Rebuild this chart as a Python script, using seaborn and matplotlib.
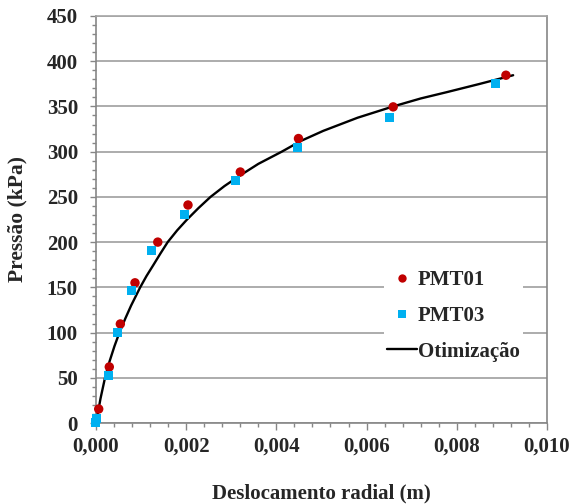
import numpy as np
import pandas as pd
import matplotlib
matplotlib.use("Agg")
import matplotlib.pyplot as plt
import seaborn as sns
from matplotlib.ticker import MultipleLocator, FixedLocator, FixedFormatter

# ---- data ----
pmt01_x = [0.00006, 0.000295, 0.00054, 0.000865, 0.00137, 0.00204, 0.0032, 0.00449, 0.00659, 0.00909]
pmt01_p = [15.5, 62, 109.5, 155, 200, 241, 277.5, 314.5, 349.5, 384.5]

pmt03_x = [0.0, 0.00001, 0.00027, 0.00047, 0.00078, 0.00122, 0.00197, 0.00309, 0.00446, 0.0065, 0.00885]
pmt03_p = [0.5, 5, 52, 100, 146, 190.5, 231, 267.6, 304.2, 338.2, 374.8]

curve_x = [0, 0.00006, 0.0001, 0.0002, 0.0003, 0.00041, 0.00052, 0.00065, 0.00078, 0.00087,
           0.00098, 0.00112, 0.00127, 0.00143, 0.00159, 0.0018, 0.00201, 0.00227, 0.00254,
           0.00285, 0.00319, 0.0036, 0.00412, 0.00455, 0.00504, 0.0058, 0.00659, 0.0072,
           0.00778, 0.0085, 0.00925]
curve_p = [0, 16, 27, 50, 68, 85, 100, 115.5, 130, 139,
           150, 162.5, 174.5, 187.5, 200, 213, 224.5, 237.5, 250,
           262, 273.5, 286.5, 300, 312, 323, 337.5, 350, 358.8,
           365.8, 374.8, 384.5]

x_ticks = [0.0, 0.002, 0.004, 0.006, 0.008, 0.010]
x_tick_labels = ["0,000", "0,002", "0,004", "0,006", "0,008", "0,010"]
y_ticks = [0, 50, 100, 150, 200, 250, 300, 350, 400, 450]
y_tick_labels = ["0", "50", "100", "150", "200", "250", "300", "350", "400", "450"]

series_names = ["PMT01", "PMT03"]
curve_name = "Otimização"

# ---- build tables ----
df_pts = pd.concat([
    pd.DataFrame({"x": pmt01_x, "p": pmt01_p, "Ensaio": series_names[0]}),
    pd.DataFrame({"x": pmt03_x, "p": pmt03_p, "Ensaio": series_names[1]}),
], ignore_index=True)
df_curve = pd.DataFrame({"x": curve_x, "p": curve_p})

sns.set_style("white")
plt.rcParams["font.family"] = ["Liberation Serif", "DejaVu Serif"]
plt.rcParams["font.weight"] = "bold"

fig = plt.figure(figsize=(5.7, 5.04), dpi=100)
ax = fig.add_axes([0.1684, 0.1607, 0.9596 - 0.1684, 0.9683 - 0.1607])

grid_col = "#A6A6A6"
spine_col = "#868686"
red = "#C00000"
blue = "#00B0F0"

sns.lineplot(data=df_curve, x="x", y="p", color="black", lw=1.7, sort=False,
             label=curve_name, ax=ax, zorder=3)
sns.scatterplot(data=df_pts, x="x", y="p", hue="Ensaio", style="Ensaio",
                markers={"PMT01": "o", "PMT03": "s"},
                palette={"PMT01": red, "PMT03": blue},
                size="Ensaio", sizes={"PMT01": 46, "PMT03": 42},
                edgecolor="none", linewidth=0, ax=ax, zorder=4, clip_on=False)

ax.set_xlim(0, 0.010)
ax.set_ylim(0, 450)

ax.xaxis.set_major_locator(FixedLocator(x_ticks))
ax.xaxis.set_major_formatter(FixedFormatter(x_tick_labels))
ax.xaxis.set_minor_locator(MultipleLocator(0.0004))
ax.yaxis.set_major_locator(FixedLocator(y_ticks))
ax.yaxis.set_major_formatter(FixedFormatter(y_tick_labels))
ax.yaxis.set_minor_locator(MultipleLocator(10))

ax.yaxis.grid(True, color=grid_col, lw=1.3)
ax.xaxis.grid(False)
ax.set_axisbelow(True)

for s in ax.spines.values():
    s.set_color(spine_col)
    s.set_linewidth(1.2)
ax.spines["top"].set_color(grid_col)

ax.tick_params(axis="x", which="major", direction="out", length=5, width=1, color=spine_col,
               labelsize=15, pad=5, bottom=True)
ax.tick_params(axis="x", which="minor", direction="out", length=3, width=1, color=spine_col, bottom=True)
ax.tick_params(axis="y", which="major", direction="out", length=4, width=1, color=spine_col,
               labelsize=15, pad=9, left=True)
ax.tick_params(axis="y", which="minor", direction="out", length=3, width=1, color=spine_col, left=True)

ax.set_xlabel("Deslocamento radial (m)", fontsize=15, fontweight="bold")
ax.set_ylabel("Pressão (kPa)", fontsize=15.5, fontweight="bold")
ax.xaxis.set_label_coords(0.5, -0.148)
ax.yaxis.set_label_coords(-0.152, 0.5)

# legend
handles, labels = ax.get_legend_handles_labels()
hmap = dict(zip(labels, handles))
order = [series_names[0], series_names[1], curve_name]
hs = [hmap[k] for k in order]
for h in hs[:2]:
    try:
        h.set_markersize(6)
    except Exception:
        pass
leg = ax.legend(hs, order, loc="center left", bbox_to_anchor=(0.638, 0.263),
                frameon=True, fancybox=False, framealpha=1, edgecolor="white",
                prop={"family": ["Liberation Serif"], "weight": "bold", "size": 15},
                handlelength=1.45, handletextpad=0.05,
                labelspacing=0.75, borderpad=0.15, borderaxespad=0)
leg.get_frame().set_linewidth(0)

fig.canvas.draw()
for lab in ax.get_xticklabels() + ax.get_yticklabels():
    lab.set_fontweight("bold")

fig.savefig("out.png", dpi=100, facecolor="white")
